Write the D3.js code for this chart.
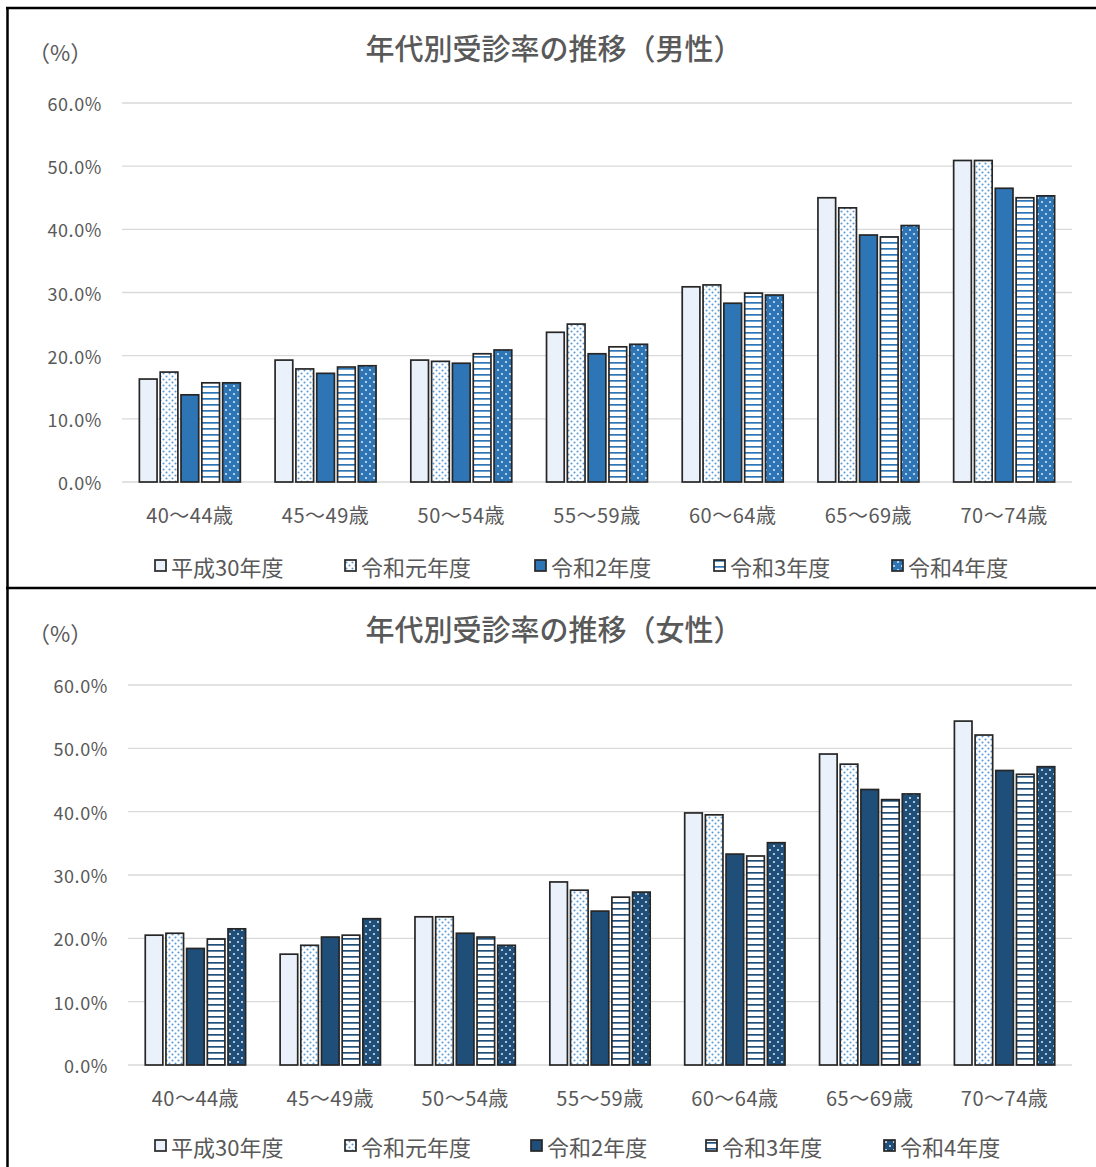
<!DOCTYPE html>
<html>
<head>
<meta charset="utf-8">
<script src="https://cdn.jsdelivr.net/npm/d3@7"></script>
<style>
  body { margin: 0; background: #fff; }
  text { font-family: "Noto Sans CJK JP", "Noto Sans", sans-serif; fill: #595959; }
</style>
</head>
<body>
<script>
// categories and series
const ageGroups = ["40〜44歳", "45〜49歳", "50〜54歳", "55〜59歳", "60〜64歳", "65〜69歳", "70〜74歳"];
const fiscalYears = ["平成30年度", "令和元年度", "令和2年度", "令和3年度", "令和4年度"];
const yTicks = [0, 10, 20, 30, 40, 50, 60];

// male rates (%) per fiscal year
const maleH30 = [16.3, 19.3, 19.3, 23.7, 30.9, 45.0, 50.9];
const maleR1 = [17.4, 17.9, 19.1, 25.0, 31.2, 43.4, 50.9];
const maleR2 = [13.8, 17.2, 18.8, 20.3, 28.3, 39.1, 46.5];
const maleR3 = [15.7, 18.2, 20.3, 21.4, 29.9, 38.8, 45.0];
const maleR4 = [15.7, 18.4, 20.9, 21.8, 29.6, 40.6, 45.3];

// female rates (%) per fiscal year
const femaleH30 = [20.5, 17.5, 23.4, 28.9, 39.8, 49.1, 54.3];
const femaleR1 = [20.8, 18.9, 23.4, 27.6, 39.5, 47.5, 52.1];
const femaleR2 = [18.4, 20.2, 20.8, 24.3, 33.3, 43.5, 46.5];
const femaleR3 = [19.9, 20.5, 20.2, 26.5, 33.0, 41.9, 45.9];
const femaleR4 = [21.5, 23.1, 18.9, 27.3, 35.1, 42.8, 47.1];

const W = 1096, H = 1167;
const svg = d3.select("body").append("svg")
    .attr("width", W)
    .attr("height", H);

svg.append("rect").attr("width", W).attr("height", H).attr("fill", "#fff");

const defs = svg.append("defs");

// patterns: dotted on white, stripes on white, dotted on dark
function makePatterns(id, dark) {
    const dot = defs.append("pattern")
        .attr("id", "dot-" + id)
        .attr("patternUnits", "userSpaceOnUse")
        .attr("width", 6).attr("height", 6);
    dot.append("rect").attr("width", 6).attr("height", 6).attr("fill", "#fff");
    dot.append("circle").attr("cx", 1.5).attr("cy", 1.5).attr("r", 1.05).attr("fill", "#5B9BD5");
    dot.append("circle").attr("cx", 4.5).attr("cy", 4.5).attr("r", 1.05).attr("fill", "#5B9BD5");

    const stripe = defs.append("pattern")
        .attr("id", "stripe-" + id)
        .attr("patternUnits", "userSpaceOnUse")
        .attr("width", 6).attr("height", 6);
    stripe.append("rect").attr("width", 6).attr("height", 6).attr("fill", "#fff");
    stripe.append("rect").attr("y", 2).attr("width", 6).attr("height", 1.7).attr("fill", dark);

    const dd = defs.append("pattern")
        .attr("id", "ddot-" + id)
        .attr("patternUnits", "userSpaceOnUse")
        .attr("width", 8).attr("height", 8);
    dd.append("rect").attr("width", 8).attr("height", 8).attr("fill", dark);
    dd.append("circle").attr("cx", 2).attr("cy", 2).attr("r", 1).attr("fill", "#DDEBF7");
    dd.append("circle").attr("cx", 6).attr("cy", 6).attr("r", 1).attr("fill", "#DDEBF7");
}
makePatterns("m", "#2E75B6");
makePatterns("f", "#1F4E79");

function drawChart(cfg) {
    const g = svg.append("g");
    const series = cfg.series;
    const fills = ["#EAF1FA", "url(#dot-" + cfg.id + ")", cfg.dark,
        "url(#stripe-" + cfg.id + ")", "url(#ddot-" + cfg.id + ")"];

    const y = d3.scaleLinear().domain([0, 60]).range([cfg.y0, cfg.y60]);
    const x0 = d3.scaleBand().domain(ageGroups).range([cfg.left, 1072])
        .paddingInner(0.256).paddingOuter(0.128);
    const x1 = d3.scaleBand().domain(fiscalYears).range([0, x0.bandwidth()])
        .paddingInner(0.15);

    // gridlines
    g.selectAll(".grid").data(yTicks).enter().append("line")
        .attr("x1", cfg.left).attr("x2", 1072)
        .attr("y1", d => y(d)).attr("y2", d => y(d))
        .attr("stroke", "#D9D9D9").attr("stroke-width", 1.3);

    // y tick labels
    g.selectAll(".ytick").data(yTicks).enter().append("text")
        .attr("x", cfg.left - 20).attr("y", d => y(d))
        .attr("text-anchor", "end").attr("dominant-baseline", "central")
        .style("font-size", "18px").style("letter-spacing", "0.6px")
        .text(d => d.toFixed(1) + "%");

    // bars
    fiscalYears.forEach((fy, s) => {
        g.selectAll(".bar" + s).data(series[s]).enter().append("rect")
            .attr("x", (d, i) => x0(ageGroups[i]) + x1(fy))
            .attr("y", d => y(d))
            .attr("width", x1.bandwidth())
            .attr("height", d => y(0) - y(d))
            .attr("fill", fills[s])
            .attr("stroke", "#262626")
            .attr("stroke-width", 1.7);
    });

    // category labels
    g.selectAll(".cat").data(ageGroups).enter().append("text")
        .attr("x", d => x0(d) + x0.bandwidth() / 2)
        .attr("y", cfg.catY)
        .attr("text-anchor", "middle").attr("dominant-baseline", "central")
        .style("font-size", "20px").style("letter-spacing", "0.5px")
        .text(d => d);

    // title and unit
    g.append("text").attr("x", 554).attr("y", cfg.titleY)
        .attr("text-anchor", "middle").attr("dominant-baseline", "central")
        .style("font-size", "29px").style("font-weight", 500)
        .text(cfg.title);
    g.append("text").attr("x", 28).attr("y", cfg.titleY + 4)
        .attr("dominant-baseline", "central")
        .style("font-size", "22px")
        .text("（%）");

    // legend
    fiscalYears.forEach((fy, s) => {
        const lx = cfg.legendX[s];
        g.append("rect")
            .attr("x", lx).attr("y", cfg.legendY - 6)
            .attr("width", 11).attr("height", 11)
            .attr("fill", fills[s])
            .attr("stroke", "#262626").attr("stroke-width", 1.7);
        g.append("text")
            .attr("x", lx + 16).attr("y", cfg.legendY)
            .attr("dominant-baseline", "central")
            .style("font-size", "22px")
            .text(fy);
    });
}

drawChart({
    id: "m", dark: "#2E75B6", title: "年代別受診率の推移（男性）",
    series: [maleH30, maleR1, maleR2, maleR3, maleR4],
    left: 122, y0: 482, y60: 103, catY: 514, titleY: 47,
    legendY: 566, legendX: [155, 345, 535, 714, 892]
});

drawChart({
    id: "f", dark: "#1F4E79", title: "年代別受診率の推移（女性）",
    series: [femaleH30, femaleR1, femaleR2, femaleR3, femaleR4],
    left: 128, y0: 1065, y60: 685, catY: 1097, titleY: 628,
    legendY: 1146, legendX: [155, 345, 531, 706, 884]
});

// frames
svg.append("line").attr("x1", 7.5).attr("x2", 7.5).attr("y1", 7).attr("y2", H)
    .attr("stroke", "#000").attr("stroke-width", 2.5);
svg.append("line").attr("x1", 6).attr("x2", W).attr("y1", 8).attr("y2", 8)
    .attr("stroke", "#000").attr("stroke-width", 2.5);
svg.append("line").attr("x1", 6).attr("x2", W).attr("y1", 588).attr("y2", 588)
    .attr("stroke", "#000").attr("stroke-width", 2.5);
</script>
</body>
</html>
